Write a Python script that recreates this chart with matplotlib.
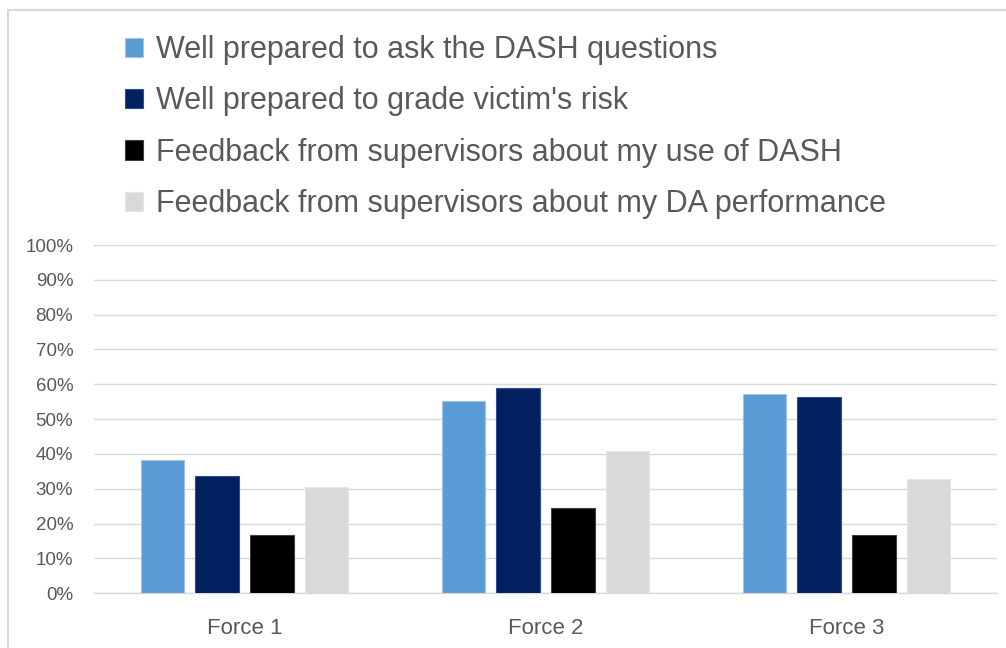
import matplotlib
matplotlib.use("Agg")
import matplotlib.pyplot as plt
from matplotlib.patches import Rectangle
import numpy as np

categories = ["Force 1", "Force 2", "Force 3"]
series_names = [
    "Well prepared to ask the DASH questions",
    "Well prepared to grade victim's risk",
    "Feedback from supervisors about my use of DASH",
    "Feedback from supervisors about my DA performance",
]
ask_dash = [38.2, 55.3, 57.3]
grade_risk = [33.8, 58.9, 56.4]
feedback_dash = [16.7, 24.6, 16.7]
feedback_da = [30.5, 40.8, 32.8]
yticks = [0, 10, 20, 30, 40, 50, 60, 70, 80, 90, 100]

colors = ["#5b9bd5", "#002060", "#000000", "#d9d9d9"]
edges = ["#9dc3e6", "#2f4f8f", "#404040", "#e6e6e6"]
text_color = "#595959"
font = "Liberation Sans"

fig = plt.figure(figsize=(10.06, 6.48), dpi=100)
ax = fig.add_axes([94 / 1006, 1 - 593.3 / 648, 903 / 1006, 348.3 / 648])

x = np.arange(len(categories))
width = 0.145
pitch = 0.182
all_series = [ask_dash, grade_risk, feedback_dash, feedback_da]
handles = []
for i, (vals, c, ec) in enumerate(zip(all_series, colors, edges)):
    offs = (i - 1.5) * pitch
    b = ax.bar(x + offs, vals, width, color=c, edgecolor=ec, linewidth=0.8,
               label=series_names[i], zorder=3)
    handles.append(b)

ax.set_xlim(-0.5, 2.5)
ax.set_ylim(0, 100)
ax.set_yticks(yticks)
ax.set_yticklabels([f"{t}%" for t in yticks], fontsize=13.5, color=text_color, family=font)
ax.set_xticks(x)
ax.set_xticklabels(categories, fontsize=16, color=text_color, family=font)
ax.tick_params(axis="both", length=0)
ax.tick_params(axis="y", pad=15)
ax.tick_params(axis="x", pad=18)
ax.grid(axis="y", color="#d9d9d9", linewidth=1, zorder=0)
for s in ["top", "right", "left"]:
    ax.spines[s].set_visible(False)
ax.spines["bottom"].set_color("#d9d9d9")
ax.spines["bottom"].set_linewidth(1)
ax.set_axisbelow(True)

leg = fig.legend(handles=handles, labels=series_names, loc="upper left",
                 bbox_to_anchor=(125 / 1006, 1 - 35 / 648), frameon=False,
                 prop={"family": font, "size": 22}, labelcolor=text_color,
                 handlelength=0.6, handleheight=0.6, handletextpad=0.4,
                 labelspacing=0.7, borderaxespad=0, borderpad=0)

fig.add_artist(Rectangle((8 / 1006, -0.1), 1.2, 1 - 10 / 648 + 0.1,
                         transform=fig.transFigure, fill=False,
                         edgecolor="#d9d9d9", linewidth=1.5))

fig.savefig("out.png", dpi=100)
